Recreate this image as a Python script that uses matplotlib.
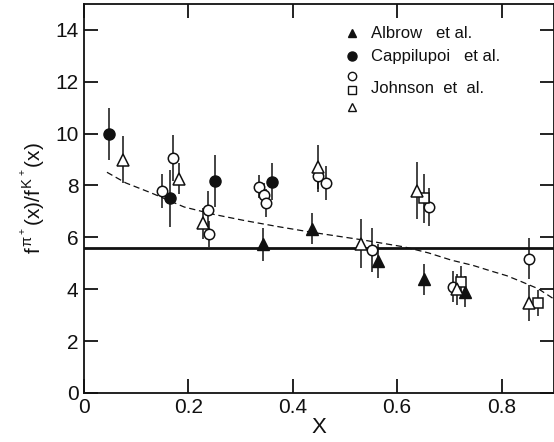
import matplotlib
matplotlib.use("Agg")
import matplotlib.pyplot as plt

# Albrow et al. (filled triangles)
albrow_x = [0.343, 0.437, 0.563, 0.651, 0.729]
albrow_y = [5.73, 6.33, 5.09, 4.38, 3.90]
albrow_e = [0.65, 0.60, 0.65, 0.60, 0.60]

# Cappilupoi et al. (filled circles)
capp_x = [0.048, 0.165, 0.251, 0.361]
capp_y = [10.0, 7.50, 8.17, 8.15]
capp_e = [1.00, 1.10, 1.00, 0.70]

# Johnson et al. (open circles, squares, triangles)
john_c_x = [0.150, 0.171, 0.237, 0.240, 0.336, 0.344, 0.349, 0.449, 0.464, 0.551, 0.661, 0.706, 0.853]
john_c_y = [7.78, 9.06, 7.04, 6.14, 7.96, 7.65, 7.32, 8.35, 8.10, 5.53, 7.17, 4.09, 5.18]
john_c_e = [0.65, 0.90, 0.75, 0.50, 0.45, 0.45, 0.55, 0.60, 0.65, 0.85, 0.73, 0.60, 0.80]

john_s_x = [0.651, 0.723, 0.869]
john_s_y = [7.51, 4.28, 3.47]
john_s_e = [0.95, 0.60, 0.50]

john_t_x = [0.075, 0.182, 0.228, 0.449, 0.531, 0.638, 0.715, 0.853]
john_t_y = [9.00, 8.26, 6.55, 8.70, 5.76, 7.80, 3.99, 3.47]
john_t_e = [0.90, 0.60, 0.60, 0.85, 0.95, 1.10, 0.60, 0.70]

# dashed model curve
curve_x = [0.044, 0.08, 0.128, 0.192, 0.25, 0.307, 0.37, 0.435, 0.531, 0.614, 0.66, 0.704, 0.745, 0.780, 0.810, 0.837, 0.870, 0.902]
curve_y = [8.51, 8.10, 7.72, 7.17, 6.88, 6.65, 6.42, 6.20, 5.91, 5.63, 5.40, 5.12, 4.92, 4.70, 4.52, 4.30, 4.02, 3.60]

flat_level = 5.6

xticks = [0, 0.2, 0.4, 0.6, 0.8]
xtick_labels = ["0", "0.2", "0.4", "0.6", "0.8"]
yticks = [0, 2, 4, 6, 8, 10, 12, 14]

ink = "#111111"
plt.rcParams["font.family"] = ["Liberation Sans", "DejaVu Sans"]
plt.rcParams["mathtext.fontset"] = "custom"
plt.rcParams["mathtext.rm"] = "Liberation Sans"
plt.rcParams["mathtext.it"] = "Liberation Sans"

fig = plt.figure(figsize=(5.54, 4.42), dpi=100)
ax = fig.add_axes([0.1516, 0.111, 0.848, 0.880])

ax.axhline(flat_level, color=ink, lw=2.0, zorder=2)
ax.plot(curve_x, curve_y, color=ink, lw=0.9, ls=(0, (5, 3)), zorder=2)

err_kw = dict(ls="none", ecolor=ink, elinewidth=1.1, capsize=0, zorder=3)
ax.errorbar(albrow_x, albrow_y, yerr=albrow_e, marker="^", ms=8, mfc=ink, mec=ink, **err_kw)
ax.errorbar(capp_x, capp_y, yerr=capp_e, marker="o", ms=8, mfc=ink, mec=ink, **err_kw)
ax.errorbar(john_c_x, john_c_y, yerr=john_c_e, marker="o", ms=7.5, mfc="white", mec=ink, mew=1.1, **err_kw)
ax.errorbar(john_s_x, john_s_y, yerr=john_s_e, marker="s", ms=7, mfc="white", mec=ink, mew=1.1, **err_kw)
ax.errorbar(john_t_x, john_t_y, yerr=john_t_e, marker="^", ms=8, mfc="white", mec=ink, mew=1.1, **err_kw)

# hand-drawn style legend
tr = ax.transAxes
ax.plot([0.570], [0.925], marker="^", ms=6, color=ink, transform=tr, clip_on=False)
ax.text(0.610, 0.925, "Albrow   et al.", transform=tr, fontsize=12, va="center", color=ink)
ax.plot([0.570], [0.865], marker="o", ms=6.5, color=ink, transform=tr, clip_on=False)
ax.text(0.610, 0.865, "Cappilupoi   et al.", transform=tr, fontsize=12, va="center", color=ink)
ax.plot([0.570], [0.815], marker="o", ms=6, mfc="white", mec=ink, transform=tr, clip_on=False)
ax.plot([0.570], [0.780], marker="s", ms=5.5, mfc="white", mec=ink, transform=tr, clip_on=False)
ax.plot([0.570], [0.735], marker="^", ms=6, mfc="white", mec=ink, transform=tr, clip_on=False)
ax.text(0.610, 0.782, "Johnson  et  al.", transform=tr, fontsize=12, va="center", color=ink)

ax.set_xlim(0, 0.9)
ax.set_ylim(0, 15)
ax.set_xticks(xticks)
ax.set_xticklabels(xtick_labels)
ax.set_yticks(yticks)
ax.tick_params(direction="in", length=10, width=1.3, color=ink, labelsize=15,
               labelcolor=ink, top=True, right=True, pad=4)
for s in ax.spines.values():
    s.set_color(ink)
    s.set_linewidth(1.3)

ax.set_xlabel("X", fontsize=16, color=ink, labelpad=0)
ax.set_ylabel(r"$f^{\pi^+}(x)/f^{K^+}(x)$", fontsize=15, color=ink, labelpad=6)

fig.savefig("out.png", dpi=100)
